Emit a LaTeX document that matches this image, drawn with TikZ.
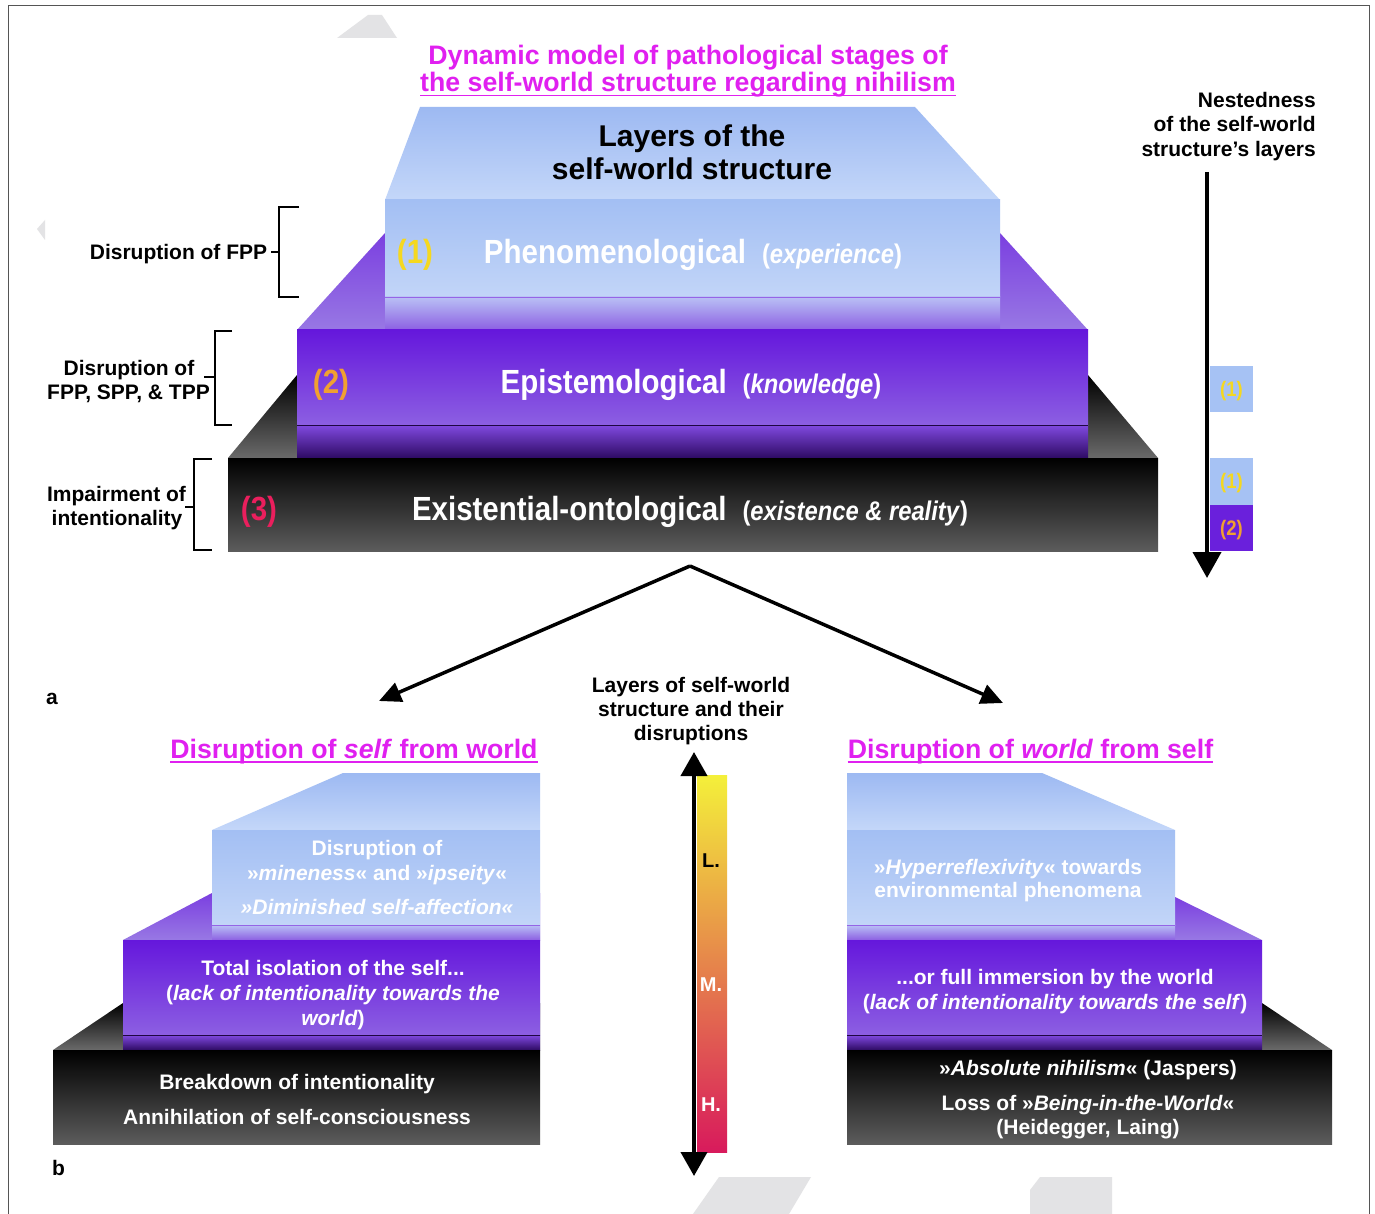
\documentclass[tikz,border=0pt]{standalone}
\usepackage{fontspec}
\setmainfont{Liberation Sans}
\newfontfamily\condf{Liberation Sans}[FakeStretch=0.88]
\usetikzlibrary{arrows.meta,calc}
\definecolor{mag}{HTML}{E020F0}
\definecolor{lbA}{HTML}{9DB9F2}
\definecolor{lbB}{HTML}{C4D7F9}
\definecolor{lbC}{HTML}{A3BFF3}
\definecolor{lbD}{HTML}{C2D5F8}
\definecolor{puA}{HTML}{7B3FE0}
\definecolor{puB}{HTML}{9878E4}
\definecolor{puC}{HTML}{6517DC}
\definecolor{puD}{HTML}{8C5FE2}
\definecolor{bkB}{HTML}{6A6A6A}
\definecolor{bkD}{HTML}{5C5C5C}
\definecolor{ylw}{HTML}{F5D820}
\definecolor{org}{HTML}{F0A030}
\definecolor{rdp}{HTML}{EA1F5D}
\definecolor{wm}{HTML}{E3E3E5}
\definecolor{frm}{HTML}{555555}
\definecolor{barA}{HTML}{F4F03A}
\definecolor{barB}{HTML}{E58A40}
\definecolor{barC}{HTML}{D81A5C}
\definecolor{nbl}{HTML}{A6C2F4}
\definecolor{npu}{HTML}{6A20DC}
\begin{document}
\begin{tikzpicture}[x=1pt,y=-1pt,
  topface/.style={top color=lbA, bottom color=lbB},
  bluefront/.style={top color=lbC, bottom color=lbD},
  purpleface/.style={top color=puA, bottom color=puB},
  purplefront/.style={top color=puC, bottom color=puD},
  blackface/.style={top color=black, bottom color=bkB},
  blackfront/.style={top color=black, middle color=black!92!white, bottom color=bkD},
  bandA/.style={top color=lbB!85!puA, bottom color=puD},
  bandB/.style={top color=puD!70!puC, bottom color=puC!45!black},
  lineA/.style={draw=puA!80!white, line width=1.5pt},
  lineB/.style={draw=puC!30!black, line width=1.5pt},
  tx/.style={inner sep=0pt, anchor=base, font=\fontsize{21}{25}\selectfont\bfseries},
  wtx/.style={tx, text=white},
  hd/.style={inner sep=0pt, anchor=base, text=mag, font=\fontsize{26.7}{28}\selectfont\bfseries},
  big/.style={inner sep=0pt, anchor=base, text=white, font=\condf\fontsize{33.5}{34}\selectfont\bfseries},
  layt/.style={inner sep=0pt, anchor=base, text=black, font=\fontsize{30}{33}\selectfont\bfseries},
  nest/.style={inner sep=0pt, anchor=base, font=\condf\fontsize{21}{22}\selectfont\bfseries},
  brk/.style={draw=black, line width=1.3pt},
  diag/.style={-{Triangle[width=20pt,length=22pt]}, line width=3.5pt},
  vert/.style={line width=4pt},
  wmark/.style={fill=wm, draw=none}
]
\useasboundingbox (0,0) rectangle (1375,1214);
\fill[white] (0,0) rectangle (1375,1214);

% watermark shapes
\path[wmark] (337,38) -- (368,15) -- (382,15) -- (397,38) -- cycle;
\path[wmark] (45,220) -- (37,229) -- (45,240) -- cycle;
\path[wmark] (719,1177) -- (811,1177) -- (789,1214) -- (693,1214) -- cycle;
\path[wmark] (1030,1214) -- (1030,1190) -- (1040,1177) -- (1112,1177) -- (1112,1214) -- cycle;

% frame
\draw[frm, line width=1pt] (8.5,1214) -- (8.5,5.5) -- (1369.5,5.5) -- (1369.5,1214);

% ===== top pyramid =====
\shade[blackface] (297,375) -- (1088,375) -- (1158,458) -- (228,458) -- cycle;
\shade[purpleface] (385,233) -- (1000,233) -- (1088,330) -- (297,330) -- cycle;
\shade[topface] (420,107) -- (915,107) -- (1000,200) -- (385,200) -- cycle;
\shade[bluefront] (385,200) rectangle (1000,297);
\shade[bandA] (385,297) rectangle (1000,330);
\draw[lineA] (385,297.5) -- (1000,297.5);
\shade[purplefront] (297,330) rectangle (1088,425);
\shade[bandB] (297,425) rectangle (1088,458);
\draw[lineB] (297,425.5) -- (1088,425.5);
\shade[blackfront] (228,458) rectangle (1158,551);

\node[layt] (lay1) at (692,147) {Layers of the};
\node[layt] (lay2) at (692,180) {self-world structure};
\node[big, text=ylw] (n1) at (415,264) {(1)};
\node[big] (phen) at (693,264) {Phenomenological\hspace{16pt}{\fontsize{27}{28}\selectfont(\textit{experience})}};
\node[big, text=org] (n2) at (331,393) {(2)};
\node[big] (epis) at (691,393) {Epistemological\hspace{16pt}{\fontsize{27}{28}\selectfont(\textit{knowledge})}};
\node[big, text=rdp] (n3) at (259,520) {(3)};
\node[big] (exis) at (690,520) {Existential-ontological\hspace{16pt}{\fontsize{27}{28}\selectfont(\textit{existence \& reality})}};

% title
\node[hd] (t1) at (688,65) {Dynamic model of pathological stages of};
\node[hd] (t2) at (688,92) {the self-world structure regarding nihilism};
\draw[mag, line width=1.3pt] ([yshift=-3.5pt]t2.base west) -- ([yshift=-3.5pt]t2.base east);

% left brackets
\node[tx] (fpp) at (178.5,260) {Disruption of FPP};
\draw[brk] (299,207) -- (279,207) -- (279,297) -- (299,297);
\draw[brk] (271,252) -- (279,252);
\node[tx] (d2a) at (129,375) {Disruption of};
\node[tx] (d2b) at (128.5,399) {FPP, SPP, \& TPP};
\draw[brk] (232,331) -- (215,331) -- (215,425) -- (232,425);
\draw[brk] (204,377) -- (215,377);
\node[tx] (imp1) at (116.5,501) {Impairment of};
\node[tx] (imp2) at (117,525) {intentionality};
\draw[brk] (212,459) -- (194,459) -- (194,550) -- (212,550);
\draw[brk] (185,507) -- (194,507);

% right nestedness
\node[tx, anchor=base east] (ne1) at (1316,108) {Nestedness};
\node[tx, anchor=base east] (ne2) at (1316,132) {of the self-world};
\node[tx, anchor=base east] (ne3) at (1316,157) {structure’s layers};
\fill[nbl] (1210,366) rectangle (1253,412);
\fill[nbl] (1210,458) rectangle (1253,505);
\fill[npu] (1210,505) rectangle (1253,551);
\node[nest, text=ylw] (b1) at (1231.5,396) {(1)};
\node[nest, text=ylw] (b2) at (1231.5,488) {(1)};
\node[nest, text=org] (b3) at (1231.5,535) {(2)};
\coordinate (ntop) at (1207,172);
\coordinate (nbot) at (1207,578);
\draw[vert, -{Triangle[width=28pt,length=26pt]}] (ntop) -- (nbot);

% diagonal arrows
\coordinate (apex) at (690,566);
\coordinate (lend) at (379,701);
\coordinate (rend) at (1003,703);
\draw[diag, line join=miter] (apex) -- (lend);
\draw[diag] (apex) -- (rend);

\node[tx, anchor=base west] (la) at (46,704) {a};
\node[tx, anchor=base west] (lb) at (52,1175) {b};

% middle scale
\node[tx] (m1) at (691,692) {Layers of self-world};
\node[tx] (m2) at (691,716) {structure and their};
\node[tx] (m3) at (691,740) {disruptions};
\shade[top color=barA, middle color=barB, bottom color=barC] (697,775) rectangle (727,1152);
\coordinate (stop) at (694,752);
\coordinate (sbot) at (694,1176);
\draw[vert, {Triangle[width=26pt,length=24pt]}-{Triangle[width=26pt,length=24pt]}] (stop) -- (sbot);
\node[inner sep=0pt, anchor=base, font=\fontsize{20}{22}\selectfont\bfseries] (sl) at (711,867) {L.};
\node[inner sep=0pt, anchor=base, text=white, font=\fontsize{20}{22}\selectfont\bfseries] (sm) at (711,991) {M.};
\node[inner sep=0pt, anchor=base, text=white, font=\fontsize{20}{22}\selectfont\bfseries] (sh) at (711,1111) {H.};

% ===== bottom left pyramid =====
\node[hd] (hl) at (354,758) {Disruption of \textit{self} from world};
\draw[mag, line width=1.3pt] ([yshift=-4pt]hl.base west) -- ([yshift=-4pt]hl.base east);
\shade[blackface] (123,1003) -- (540,1003) -- (540,1050) -- (53,1050) -- cycle;
\shade[purpleface] (212,893) -- (540,893) -- (540,940) -- (123,940) -- cycle;
\shade[topface] (343,773) -- (540,773) -- (540,830) -- (212,830) -- cycle;
\shade[bluefront] (212,830) rectangle (540,925);
\shade[bandA] (212,925) rectangle (540,940);
\draw[lineA] (212,925.5) -- (540,925.5);
\shade[purplefront] (123,940) rectangle (540,1035);
\shade[bandB] (123,1035) rectangle (540,1050);
\draw[lineB] (123,1035.5) -- (540,1035.5);
\shade[blackfront] (53,1050) rectangle (540,1144);
\node[wtx] (l1a) at (377,855) {Disruption of};
\node[wtx] (l1b) at (377,880) {»\textit{mineness}« and »\textit{ipseity}«};
\node[wtx] (l1c) at (377,914) {\textit{»Diminished self-affection«}};
\node[wtx] (l2a) at (333,975) {Total isolation of the self...};
\node[wtx] (l2b) at (333,1000) {(\textit{lack of intentionality towards the}};
\node[wtx] (l2c) at (333,1025) {\textit{world})};
\node[wtx] (l3a) at (297,1089) {Breakdown of intentionality};
\node[wtx] (l3b) at (297,1124) {Annihilation of self-consciousness};

% ===== bottom right pyramid =====
\node[hd] (hr) at (1030.5,758) {Disruption of \textit{world} from self};
\draw[mag, line width=1.3pt] ([yshift=-4pt]hr.base west) -- ([yshift=-4pt]hr.base east);
\shade[blackface] (847,1003) -- (1262,1003) -- (1332,1050) -- (847,1050) -- cycle;
\shade[purpleface] (847,897) -- (1175,897) -- (1262,940) -- (847,940) -- cycle;
\shade[topface] (847,773) -- (1042,773) -- (1175,830) -- (847,830) -- cycle;
\shade[bluefront] (847,830) rectangle (1175,925);
\shade[bandA] (847,925) rectangle (1175,940);
\draw[lineA] (847,925.5) -- (1175,925.5);
\shade[purplefront] (847,940) rectangle (1262,1035);
\shade[bandB] (847,1035) rectangle (1262,1050);
\draw[lineB] (847,1035.5) -- (1262,1035.5);
\shade[blackfront] (847,1050) rectangle (1332,1144);
\node[wtx] (r1a) at (1008,874) {»\textit{Hyperreflexivity}« towards};
\node[wtx] (r1b) at (1008,897) {environmental phenomena};
\node[wtx] (r2a) at (1055,984) {...or full immersion by the world};
\node[wtx] (r2b) at (1055,1009) {(\textit{lack of intentionality towards the self})};
\node[wtx] (r3a) at (1088,1075) {»\textit{Absolute nihilism}« (Jaspers)};
\node[wtx] (r3b) at (1088,1110) {Loss of »\textit{Being-in-the-World}«};
\node[wtx] (r3c) at (1088,1134) {(Heidegger, Laing)};
\end{tikzpicture}
\end{document}
